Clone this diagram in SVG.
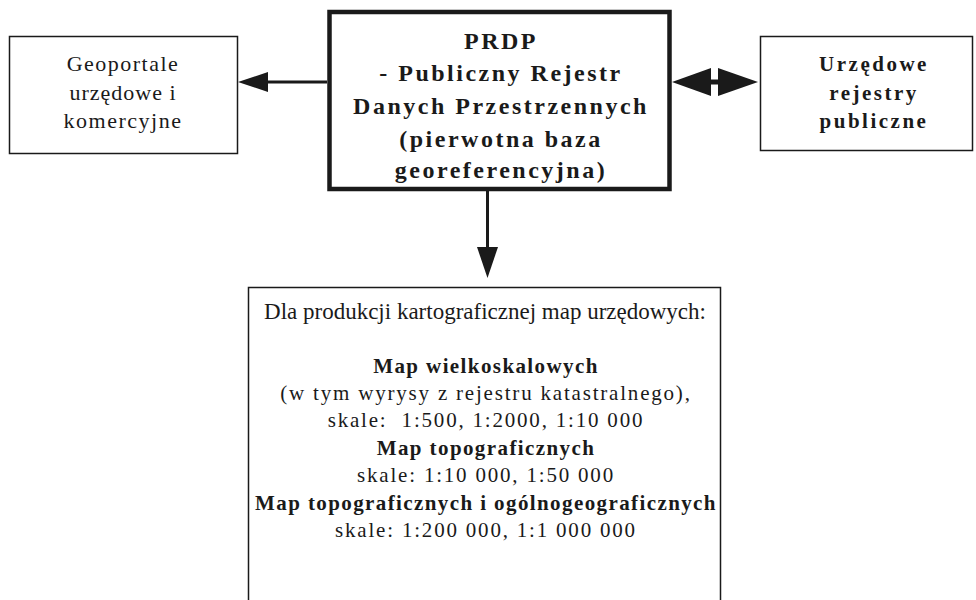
<svg xmlns="http://www.w3.org/2000/svg" width="976" height="600" viewBox="0 0 976 600">
<style>
.box{fill:#fff;stroke:#1a1a1a;stroke-width:1.5}
.main{fill:#fff;stroke:#1a1a1a;stroke-width:4.5}
.line{stroke:#1a1a1a;stroke-width:3;fill:none}
.head{fill:#1a1a1a}
text{font-family:"Liberation Serif","Times New Roman",serif;fill:#1a1a1a;text-anchor:middle;white-space:pre}
.b{font-weight:bold}
.g{font-size:22px}
.p{font-size:24px;font-weight:bold;letter-spacing:2.5px}
.r{font-size:21px;font-weight:bold;letter-spacing:2.5px}
.t{font-size:21px;letter-spacing:1.8px}
.tb{font-size:21px;font-weight:bold;letter-spacing:1.4px}
</style>
<rect width="976" height="600" fill="#fff"/>
<g id="geoportale">
<rect class="box" x="9.5" y="36.5" width="228" height="117"/>
<text class="g" x="123" y="71" letter-spacing="1.5">Geoportale</text>
<text class="g" x="123" y="100" letter-spacing="1">urzędowe i</text>
<text class="g" x="123" y="128" letter-spacing="1.5">komercyjne</text>
</g>
<g id="prdp">
<rect class="main" x="329.5" y="12" width="340" height="177"/>
<text class="p" x="501" y="49">PRDP</text>
<text class="p" x="501" y="81">- Publiczny Rejestr</text>
<text class="p" x="501" y="114">Danych Przestrzennych</text>
<text class="p" x="501" y="147">(pierwotna baza</text>
<text class="p" x="501" y="178">georeferencyjna)</text>
</g>
<g id="rejestry">
<rect class="box" x="760.5" y="36.5" width="212" height="114"/>
<text class="r" x="874" y="71">Urzędowe</text>
<text class="r" x="874" y="100">rejestry</text>
<text class="r" x="874" y="128">publiczne</text>
</g>
<g id="produkcja">
<path class="box" d="M248.5,600 V287.5 H720.5 V600"/>
<text x="485" y="319" style="font-size:23px">Dla produkcji kartograficznej map urzędowych:</text>
<text class="tb" x="486" y="373">Map wielkoskalowych</text>
<text class="t" x="486" y="400">(w tym wyrysy z rejestru katastralnego),</text>
<text class="t" x="486" y="427">skale:  1:500, 1:2000, 1:10 000</text>
<text class="tb" x="486" y="455">Map topograficznych</text>
<text class="t" x="486" y="482">skale: 1:10 000, 1:50 000</text>
<text class="tb" x="486" y="510">Map topograficznych i ogólnogeograficznych</text>
<text class="t" x="486" y="537">skale: 1:200 000, 1:1 000 000</text>
</g>
<g id="connectors">
<line class="line" x1="327" y1="82" x2="264" y2="82"/>
<polygon class="head" points="238,82 268,72 268,92"/>
<polygon class="head" points="672,82 711,68 711,96"/>
<polygon class="head" points="758,82 718,68 718,96"/>
<rect class="head" x="710" y="79.5" width="9" height="5"/>
<line class="line" x1="487.5" y1="191" x2="487.5" y2="250"/>
<polygon class="head" points="477,247 498,247 487.5,278"/>
</g>
</svg>
